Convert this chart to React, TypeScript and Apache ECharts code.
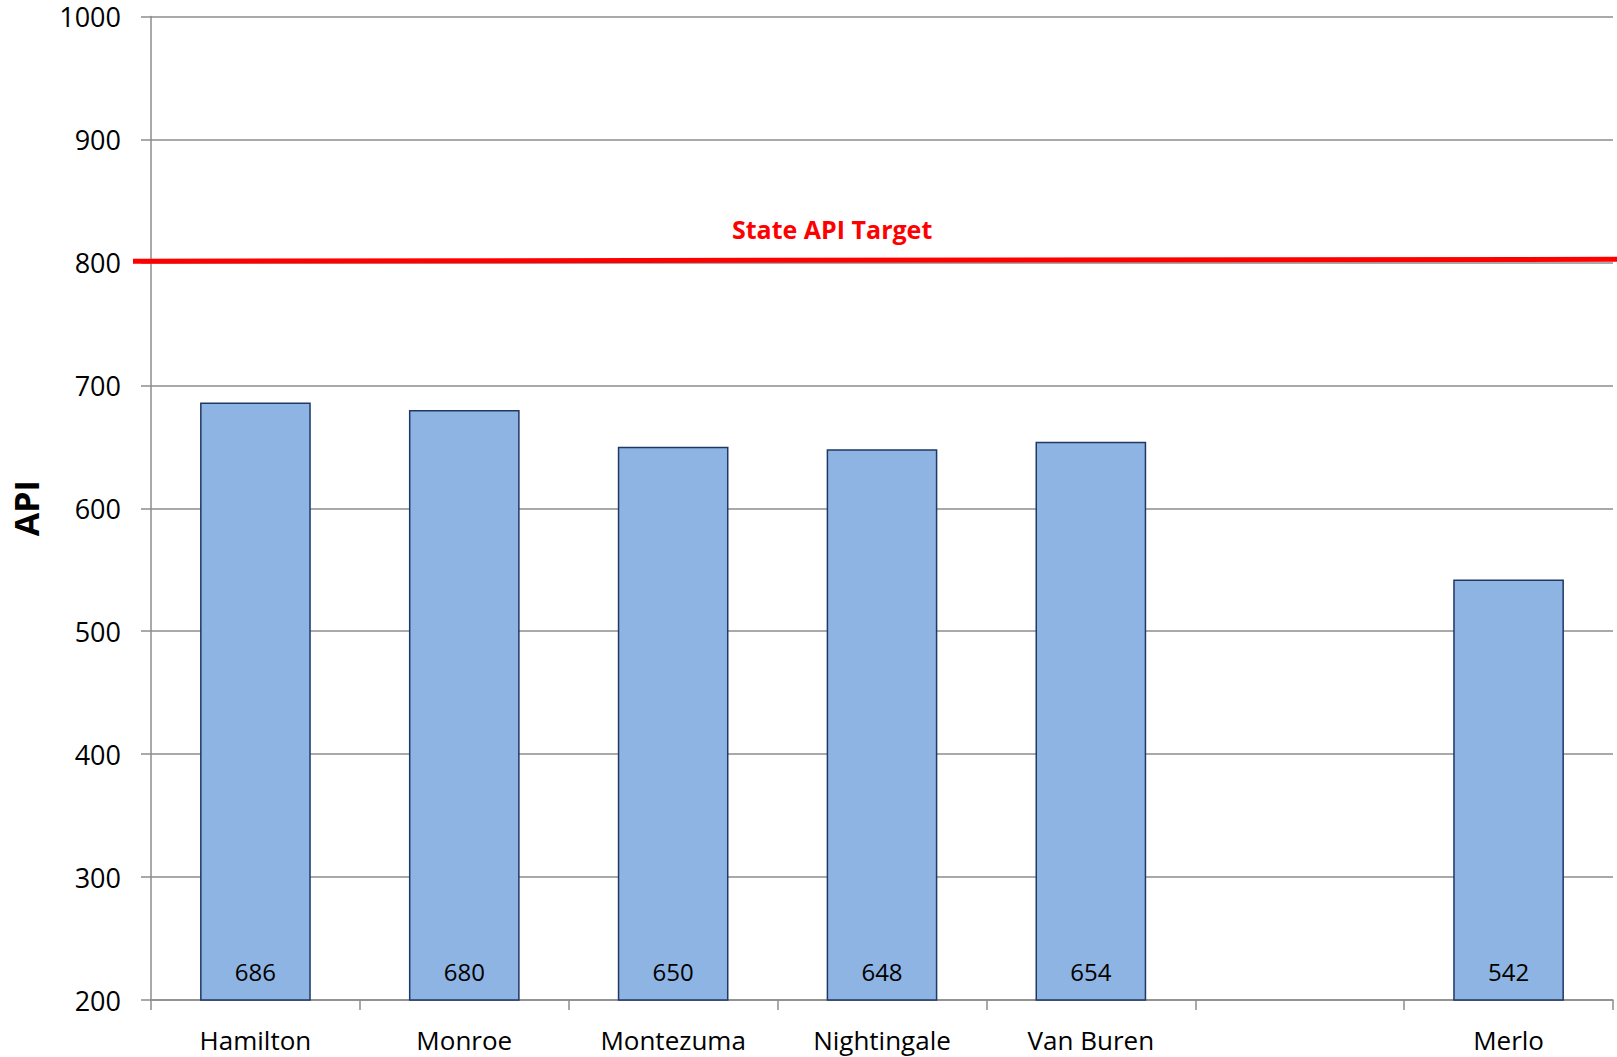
import React, { useEffect, useRef } from "react";
import * as echarts from "echarts";

const categories = ["Hamilton", "Monroe", "Montezuma", "Nightingale", "Van Buren", "", "Merlo"];
const apiValues: (number | string)[] = [686, 680, 650, 648, 654, "-", 542];
const yTicks = { min: 200, max: 1000, interval: 100 };
const targetLine = [[0, 801], [1, 802.5]];
const targetLabel = "State API Target";

export default function App() {
  const ref = useRef<HTMLDivElement>(null);
  useEffect(() => {
    document.body.style.margin = "0";
    const chart = echarts.init(ref.current!, null, { renderer: "svg" });
    const font = "'Open Sans', sans-serif";
    chart.setOption({
      animation: false,
      backgroundColor: "#ffffff",
      grid: [
        { left: 151, right: 4, top: 16.5, bottom: 57, containLabel: false },
        { left: 133, right: 0, top: 16.5, bottom: 57, containLabel: false },
      ],
      xAxis: [
        {
          type: "category",
          gridIndex: 0,
          data: categories,
          axisLine: { lineStyle: { color: "#8c8c8c", width: 1.5 } },
          axisTick: { show: true, length: 10, lineStyle: { color: "#8c8c8c", width: 1.5 } },
          axisLabel: { color: "#000", fontFamily: font, fontSize: 26, margin: 27 },
        },
        { type: "value", gridIndex: 1, min: 0, max: 1, show: false },
      ],
      yAxis: [
        {
          type: "value",
          gridIndex: 0,
          min: yTicks.min,
          max: yTicks.max,
          interval: yTicks.interval,
          name: "API",
          nameLocation: "middle",
          nameGap: 108,
          nameRotate: 90,
          nameTextStyle: { color: "#000", fontFamily: font, fontSize: 34, fontWeight: "bold" },
          axisLine: { show: true, lineStyle: { color: "#8c8c8c", width: 1.5 } },
          axisTick: { show: true, length: 10, lineStyle: { color: "#8c8c8c", width: 1.5 } },
          axisLabel: {
            color: "#000",
            fontFamily: font,
            fontSize: 27,
            lineHeight: 27,
            margin: 30,
            formatter: (v: number) => String(v),
          },
          splitLine: { show: true, lineStyle: { color: "#8c8c8c", width: 1.5 } },
        },
        { type: "value", gridIndex: 1, min: yTicks.min, max: yTicks.max, show: false },
      ],
      graphic: [
        {
          type: "text",
          left: 830 - 98,
          top: 216,
          style: {
            text: targetLabel,
            fill: "#ff0000",
            font: `bold 25px ${font}`,
          },
        },
      ],
      series: [
        {
          type: "bar",
          xAxisIndex: 0,
          yAxisIndex: 0,
          data: apiValues,
          barWidth: "53%",
          itemStyle: { color: "#8eb4e3", borderColor: "#1f3864", borderWidth: 1.5 },
          label: {
            show: true,
            position: "insideBottom",
            distance: 17,
            color: "#000",
            fontFamily: font,
            fontSize: 24,
          },
        },
        {
          type: "line",
          xAxisIndex: 1,
          yAxisIndex: 1,
          data: targetLine,
          symbol: "none",
          lineStyle: { color: "#ff0000", width: 5 },
          z: 5,
        },
      ],
    });
    return () => chart.dispose();
  }, []);
  return <div ref={ref} style={{ width: 1617, height: 1057 }} />;
}
